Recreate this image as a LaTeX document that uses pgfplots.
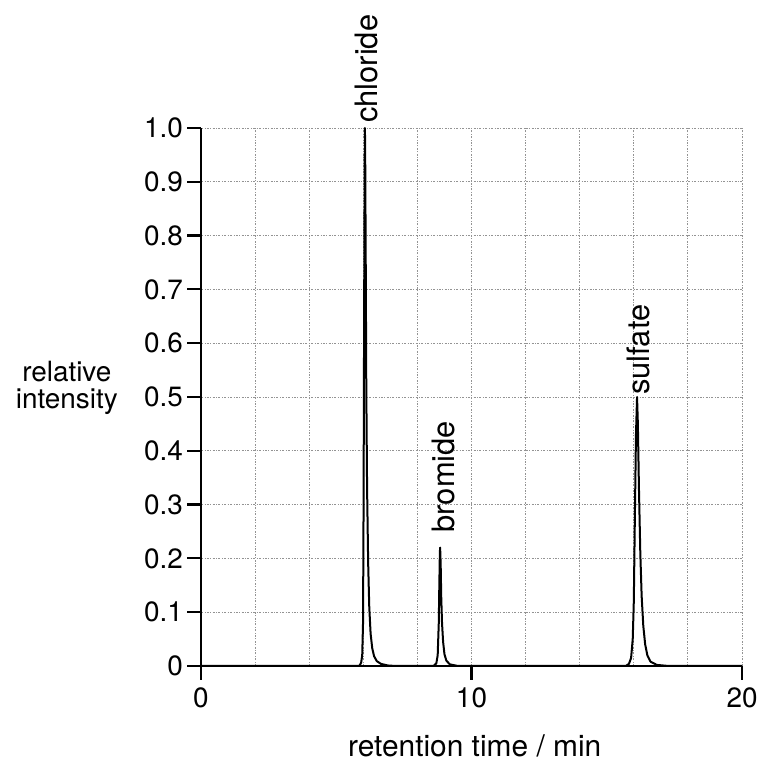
\documentclass[border=0pt]{standalone}
\usepackage{fontspec}
\setmainfont{TeX Gyre Heros}
\usepackage{pgfplots}
\pgfplotsset{compat=1.18}
\begin{document}
\begin{tikzpicture}[x=1bp,y=1bp]
\path[use as bounding box] (0,0) rectangle (762,762);
\begin{axis}[
  at={(201bp,96bp)}, anchor=south west,
  width=541bp, height=538bp, scale only axis,
  xmin=0, xmax=20, ymin=0, ymax=1,
  axis x line*=bottom, axis y line*=left,
  axis line style={-, line width=2.2bp, black},
  xtick={0,10,20},
  minor xtick={2,4,6,8,12,14,16,18},
  ytick={0,0.1,0.2,0.3,0.4,0.5,0.6,0.7,0.8,0.9,1.0},
  yticklabels={0,0.1,0.2,0.3,0.4,0.5,0.6,0.7,0.8,0.9,1.0},
  /pgf/number format/assume math mode=true,
  tick align=outside,
  major tick length=14bp, minor tick length=0pt,
  tick style={black, line width=2.2bp},
  grid=both,
  major grid style={gray!85, dash pattern=on 2bp off 1.5bp on 0.8bp off 1.5bp, line width=0.9bp},
  minor grid style={gray!85, dash pattern=on 2bp off 1.5bp on 0.8bp off 1.5bp, line width=0.9bp},
  ticklabel style={font=\fontsize{28}{30}\selectfont, inner sep=2bp},
  yticklabel style={xshift=-2bp},
  xticklabel style={yshift=-6bp},
  every axis y label/.style={at={(axis description cs:-0.248,0.517)}, anchor=center, align=center, font=\fontsize{28}{27}\selectfont},
  every axis x label/.style={at={(axis description cs:0.506,0)}, anchor=base, yshift=-90bp, font=\fontsize{30}{32}\selectfont},
  ylabel={relative\\intensity},
  xlabel={retention time / min},
  clip=false,
]
\addplot[black, line width=2bp, line join=round] coordinates {
 (0,0) (5.85,0) (5.92,0.006) (5.96,0.02) (5.99,0.08) (6.01,0.3) (6.03,0.65) (6.05,0.93) (6.06,1.0) (6.07,0.95) (6.09,0.75) (6.11,0.52) (6.14,0.33) (6.18,0.19) (6.22,0.11) (6.27,0.06) (6.33,0.033) (6.4,0.018) (6.5,0.009) (6.65,0.004) (6.9,0.001) (7.2,0)
 (8.6,0) (8.7,0.005) (8.75,0.02) (8.79,0.08) (8.81,0.15) (8.83,0.21) (8.84,0.22) (8.86,0.19) (8.88,0.13) (8.91,0.08) (8.95,0.045) (9.0,0.022) (9.07,0.01) (9.2,0.003) (9.5,0)
 (15.7,0) (15.82,0.004) (15.9,0.015) (15.96,0.05) (16.0,0.12) (16.04,0.28) (16.08,0.43) (16.12,0.5) (16.15,0.45) (16.19,0.33) (16.24,0.21) (16.29,0.13) (16.35,0.075) (16.42,0.04) (16.5,0.02) (16.62,0.008) (16.85,0.002) (17.3,0) (20,0)
};
\node[rotate=90, anchor=west, inner sep=0bp, xshift=5bp, yshift=-2bp, font=\fontsize{31}{32}\selectfont] at (axis cs:6.06,1.0) {chloride};
\node[rotate=90, anchor=west, inner sep=0bp, xshift=15bp, yshift=-3bp, font=\fontsize{31}{32}\selectfont] at (axis cs:8.84,0.22) {bromide};
\node[rotate=90, anchor=west, inner sep=0bp, xshift=2bp, yshift=-1bp, font=\fontsize{31}{32}\selectfont] at (axis cs:16.12,0.5) {sulfate};
\end{axis}
\end{tikzpicture}
\end{document}
